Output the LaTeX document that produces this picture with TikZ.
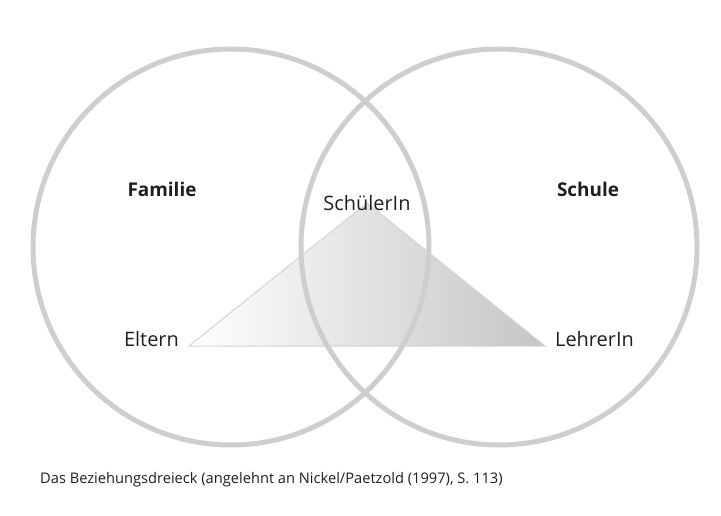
\documentclass[tikz,border=0pt]{standalone}
\usepackage{fontspec}
\setmainfont{Open Sans}
\usepackage{xcolor}
\definecolor{ring}{HTML}{CDCED0}
\definecolor{edge}{HTML}{D3D4D6}
\definecolor{shadow}{HTML}{C4C5C7}
\definecolor{ink}{HTML}{1E1E1E}

\begin{document}
\begin{tikzpicture}[x=1bp, y=-1bp, every node/.style={text=ink, inner sep=0pt}]
  \useasboundingbox (0,0) rectangle (721,516);

  % Triangle corners
  \coordinate (eltpt) at (189,346);
  \coordinate (lehrpt) at (545,346);
  \coordinate (schuelpt) at (367,203);

  % Shaded triangle
  \shade[left color=white, right color=shadow, draw=edge, line width=1bp] (eltpt) -- (schuelpt) -- (lehrpt) -- cycle;

  % Two overlapping circles
  \node[draw=ring, line width=5bp, circle, minimum size=396bp] (familie) at (231,247) {};
  \node[draw=ring, line width=5bp, circle, minimum size=396bp] (schule) at (499,247) {};

  % Circle titles
  \node[font=\fontsize{19}{22}\selectfont\bfseries, anchor=base] (familielabel) at (162,197) {Familie};
  \node[font=\fontsize{19}{22}\selectfont\bfseries, anchor=base] (schulelabel) at (588,197) {Schule};

  % Corner labels
  \node[font=\fontsize{20}{23}\selectfont, anchor=base] (schueler) at ([yshift=-8bp]schuelpt) {SchülerIn};
  \node[font=\fontsize{20}{23}\selectfont, anchor=base east] (eltern) at ([xshift=-10bp]eltpt) {Eltern};
  \node[font=\fontsize{20}{23}\selectfont, anchor=base west] (lehrer) at ([xshift=10bp]lehrpt) {LehrerIn};

  % Caption
  \node[font=\fontsize{14.7}{17}\selectfont, anchor=base west] (caption) at (40,483) {Das Beziehungsdreieck (angelehnt an Nickel/Paetzold (1997), S. 113)};
\end{tikzpicture}
\end{document}
